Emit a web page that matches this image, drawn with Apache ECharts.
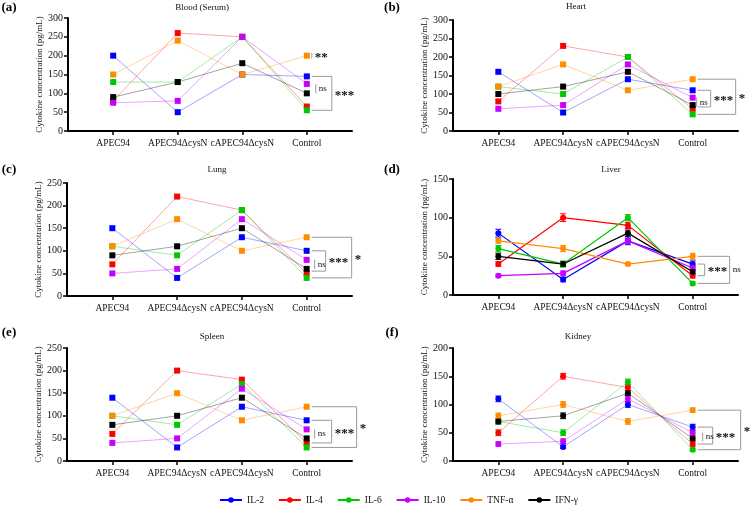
<!DOCTYPE html>
<html>
<head>
<meta charset="utf-8">
<script src="https://cdn.jsdelivr.net/npm/echarts@6/dist/echarts.min.js"></script>
<style>
html,body{margin:0;padding:0;background:#fff;}
#main{width:752px;height:507px;}
</style>
</head>
<body>
<div id="main"></div>
<script>
var cats = ['APEC94', 'APEC94ΔcysN', 'cAPEC94ΔcysN', 'Control'];
var names = ['IL-2', 'IL-4', 'IL-6', 'IL-10', 'TNF-α', 'IFN-γ'];
var colors = ['#0000ff', '#ff0000', '#00c800', '#c800ff', '#ff8c00', '#000000'];

// values per tissue, rows follow names[]
var blood  = [[200, 50, 150, 145], [80, 260, 250, 65], [130, 130, 250, 55], [75, 80, 250, 125], [150, 240, 150, 200], [90, 130, 180, 100]];
var heart  = [[160, 50, 140, 110], [80, 230, 200, 60], [120, 100, 200, 45], [60, 70, 180, 90], [120, 180, 110, 140], [100, 120, 160, 70]];
var lung   = [[150, 40, 130, 100], [70, 220, 190, 50], [110, 90, 190, 40], [50, 60, 170, 80], [110, 170, 100, 130], [90, 110, 150, 60]];
var liver  = [[80, 20, 70, 40], [40, 100, 90, 25], [60, 40, 100, 15], [25, 28, 70, 35], [70, 60, 40, 50], [50, 40, 80, 30]];
var spleen = [[140, 30, 120, 90], [60, 200, 180, 40], [100, 80, 170, 30], [40, 50, 160, 70], [100, 150, 90, 120], [80, 100, 140, 50]];
var kidney = [[110, 25, 100, 60], [50, 150, 130, 30], [70, 50, 140, 20], [30, 35, 110, 50], [80, 100, 70, 90], [70, 80, 120, 40]];

// error bars (only liver and kidney show them)
var liverErr  = [[5, 3, 5, 4], [3, 5, 4, 3], [4, 4, 4, 2], [2, 3, 3, 3], [3, 4, 2, 4], [4, 3, 4, 3]];
var kidneyErr = [[5, 3, 5, 5], [5, 5, 5, 4], [5, 5, 5, 3], [4, 4, 5, 4], [5, 5, 5, 4], [4, 5, 4, 4]];

var panelData = [blood, heart, lung, liver, spleen, kidney];
var panelErr  = [null, null, null, liverErr, null, kidneyErr];
var panelTitles = ['Blood (Serum)', 'Heart', 'Lung', 'Liver', 'Spleen', 'Kidney'];
var panelLetters = ['(a)', '(b)', '(c)', '(d)', '(e)', '(f)'];
var yMax = [300, 300, 250, 150, 250, 200];
var yStep = [50, 50, 50, 50, 50, 50];

// significance brackets: [panel, top, bottom, right offset px, label, inner?]
var brackets = [
    [0, 145, 55, 25, '***', false], [0, 125, 100, 9, 'ns', true], [0, 207, 193, 5, '**', true],
    [1, 140, 45, 43, '*', false], [1, 110, 65, 18, '***', false], [1, 90, 65, 4, 'ns', true],
    [2, 130, 40, 45, '*', false], [2, 100, 55, 19, '***', false], [2, 80, 60, 8, 'ns', true],
    [3, 50, 15, 37, 'ns', false], [3, 40, 25, 12, '***', false],
    [4, 120, 30, 50, '*', false], [4, 90, 40, 25, '***', false], [4, 70, 50, 8, 'ns', true],
    [5, 90, 20, 48, '*', false], [5, 60, 30, 20, '***', false], [5, 50, 35, 10, 'ns', true]
];

var boxes = [[68, 18, 284, 113], [453, 20, 285, 111], [67, 183, 285, 113], [453, 179, 285, 116], [67, 348, 285, 113], [453, 348, 285, 113]];
var titlePos = [[202, 8], [576, 7], [217, 170], [611, 170], [212, 337], [578, 337]];
var letterPos = [[9, 8], [392, 8], [9, 170], [392, 170], [9, 333], [392, 333]];

var font = 'Liberation Serif';
var myChart = echarts.init(document.getElementById('main'));

var grids = [], xAxes = [], yAxes = [], series = [], graphics = [];
for (var p = 0; p < 6; p++) {
    grids.push({left: boxes[p][0], top: boxes[p][1], width: boxes[p][2], height: boxes[p][3], containLabel: false});
    xAxes.push({
        type: 'value', gridIndex: p, min: -0.7, max: 3.7,
        splitLine: {show: false},
        axisLine: {onZero: false, lineStyle: {color: '#000', width: 2}},
        axisTick: {customValues: [0, 1, 2, 3], length: 4, lineStyle: {color: '#000', width: 1.5}},
        axisLabel: {customValues: [0, 1, 2, 3], margin: 7, fontFamily: font, fontSize: 9.5, color: '#111',
            formatter: function (v) { return cats[v]; }}
    });
    yAxes.push({
        type: 'value', gridIndex: p, min: 0, max: yMax[p], interval: yStep[p],
        name: 'Cytokine concentration (pg/mL)', nameLocation: 'middle', nameGap: 24,
        nameTextStyle: {fontFamily: font, fontSize: 9, color: '#111'},
        splitLine: {show: false},
        axisLine: {show: true, onZero: false, lineStyle: {color: '#000', width: 2}},
        axisTick: {show: true, length: 4, lineStyle: {color: '#000', width: 1.5}},
        axisLabel: {margin: 5, fontFamily: font, fontSize: 10, color: '#111'}
    });
    graphics.push({type: 'text', x: titlePos[p][0], y: titlePos[p][1],
        style: {text: panelTitles[p], font: '9px "' + font + '"', fill: '#111', textAlign: 'center', textVerticalAlign: 'middle'}});
    graphics.push({type: 'text', x: letterPos[p][0], y: letterPos[p][1],
        style: {text: panelLetters[p], font: 'bold 13px "' + font + '"', fill: '#000', textAlign: 'center', textVerticalAlign: 'middle'}});
}

// liver first, so the legend takes its line + circle icons
var order = [3, 0, 1, 2, 4, 5];
order.forEach(function (p) {
    var round = panelErr[p] !== null;
    panelData[p].forEach(function (vals, s) {
        series.push({
            name: names[s], type: 'line', xAxisIndex: p, yAxisIndex: p,
            data: vals.map(function (v, i) { return [i, v]; }),
            symbol: round ? 'circle' : 'rect', symbolSize: 6,
            itemStyle: {color: colors[s]},
            lineStyle: {color: colors[s], width: p === 3 ? 1.2 : 0.8, opacity: p === 3 ? 1 : 0.45},
            z: 3
        });
        if (round) {
            series.push({
                name: names[s], type: 'custom', xAxisIndex: p, yAxisIndex: p,
                data: vals.map(function (v, i) { var e = panelErr[p][s][i]; return [i, v - e, v + e]; }),
                encode: {x: 0, y: [1, 2]},
                renderItem: (function (c) {
                    return function (params, api) {
                        var lo = api.coord([api.value(0), api.value(1)]);
                        var hi = api.coord([api.value(0), api.value(2)]);
                        var st = {stroke: c, lineWidth: 1};
                        return {type: 'group', children: [
                            {type: 'line', shape: {x1: lo[0], y1: lo[1], x2: hi[0], y2: hi[1]}, style: st},
                            {type: 'line', shape: {x1: lo[0] - 3, y1: lo[1], x2: lo[0] + 3, y2: lo[1]}, style: st},
                            {type: 'line', shape: {x1: hi[0] - 3, y1: hi[1], x2: hi[0] + 3, y2: hi[1]}, style: st}
                        ]};
                    };
                })(colors[s]),
                z: 2
            });
        }
    });
});

myChart.setOption({
    animation: false,
    backgroundColor: '#fff',
    grid: grids,
    xAxis: xAxes,
    yAxis: yAxes,
    legend: {
        data: names, left: 214, top: 490, itemWidth: 22, itemHeight: 7, itemGap: 14,
        textStyle: {fontFamily: font, fontSize: 9.5, color: '#111'}
    },
    series: series,
    graphic: graphics
});

/*significance brackets placed through the axes*/
var brk = [];
brackets.forEach(function (b) {
    var top = myChart.convertToPixel({gridIndex: b[0]}, [3, b[1]]);
    var bot = myChart.convertToPixel({gridIndex: b[0]}, [3, b[2]]);
    var xr = top[0] + b[3];
    var st = {stroke: '#9a9a9a', lineWidth: 1};
    if (b[5]) {
        brk.push({type: 'line', shape: {x1: xr, y1: top[1], x2: xr, y2: bot[1]}, style: st});
    } else {
        brk.push({type: 'polyline', shape: {points: [[top[0] + 5, top[1]], [xr, top[1]], [xr, bot[1]], [bot[0] + 5, bot[1]]]}, style: {stroke: '#9a9a9a', lineWidth: 1, fill: null}});
    }
    var isStar = b[4].charAt(0) === '*';
    brk.push({type: 'text', x: xr + 3, y: (top[1] + bot[1]) / 2 + (isStar ? 2 : 0),
        style: {text: b[4], font: (isStar ? 'bold 13px ' : '9px ') + '"' + font + '"', fill: '#111', textVerticalAlign: 'middle'}});
});
myChart.setOption({graphic: graphics.concat(brk)});
</script>
</body>
</html>
